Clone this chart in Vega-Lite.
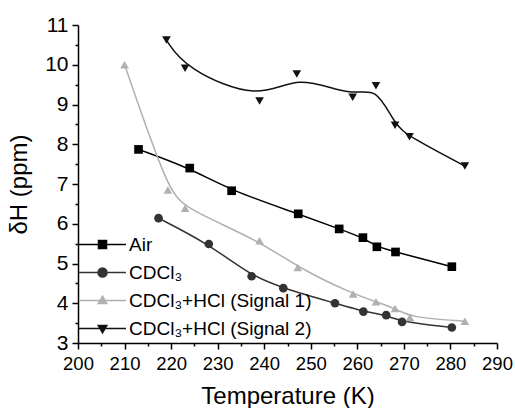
{
  "$schema": "https://vega.github.io/schema/vega-lite/v6.json",
  "autosize": {"type": "none"},
  "padding": {"left": 78, "top": 25, "right": 18, "bottom": 65},
  "width": 419,
  "height": 318,
  "background": "white",
  "config": {
    "view": {"stroke": null},
    "font": "Arial",
    "axis": {
      "grid": false,
      "domainColor": "black",
      "domainWidth": 1.5,
      "tickColor": "black",
      "tickWidth": 1.5,
      "tickSize": 6,
      "labelColor": "black",
      "labelFont": "Arial",
      "labelOverlap": false,
      "labelFlush": false,
      "titleFont": "Arial",
      "titleFontSize": 24,
      "titleFontWeight": "normal",
      "titleColor": "black"
    },
    "legend": {
      "labelFont": "Arial",
      "labelFontSize": 19,
      "labelColor": "black",
      "labelLimit": 400,
      "padding": 0,
      "rowPadding": 8
    }
  },
  "data": {
    "values": [
      {"series": "Air", "T": 213.0, "v": 7.87},
      {"series": "Air", "T": 224.0, "v": 7.40},
      {"series": "Air", "T": 233.0, "v": 6.83},
      {"series": "Air", "T": 247.3, "v": 6.25},
      {"series": "Air", "T": 256.1, "v": 5.87},
      {"series": "Air", "T": 261.2, "v": 5.65},
      {"series": "Air", "T": 264.2, "v": 5.42},
      {"series": "Air", "T": 268.2, "v": 5.29},
      {"series": "Air", "T": 280.3, "v": 4.92},
      {"series": "CDCl₃", "T": 217.3, "v": 6.14},
      {"series": "CDCl₃", "T": 228.1, "v": 5.49},
      {"series": "CDCl₃", "T": 237.3, "v": 4.68},
      {"series": "CDCl₃", "T": 244.1, "v": 4.38},
      {"series": "CDCl₃", "T": 255.2, "v": 4.00},
      {"series": "CDCl₃", "T": 261.3, "v": 3.79},
      {"series": "CDCl₃", "T": 266.2, "v": 3.70},
      {"series": "CDCl₃", "T": 269.6, "v": 3.53},
      {"series": "CDCl₃", "T": 280.3, "v": 3.39},
      {"series": "CDCl₃+HCl (Signal 1)", "T": 210.0, "v": 10.0},
      {"series": "CDCl₃+HCl (Signal 1)", "T": 219.3, "v": 6.85},
      {"series": "CDCl₃+HCl (Signal 1)", "T": 223.0, "v": 6.39},
      {"series": "CDCl₃+HCl (Signal 1)", "T": 239.0, "v": 5.57},
      {"series": "CDCl₃+HCl (Signal 1)", "T": 247.2, "v": 4.90},
      {"series": "CDCl₃+HCl (Signal 1)", "T": 259.1, "v": 4.23},
      {"series": "CDCl₃+HCl (Signal 1)", "T": 264.0, "v": 4.04},
      {"series": "CDCl₃+HCl (Signal 1)", "T": 268.1, "v": 3.87},
      {"series": "CDCl₃+HCl (Signal 1)", "T": 271.3, "v": 3.64},
      {"series": "CDCl₃+HCl (Signal 1)", "T": 283.1, "v": 3.55},
      {"series": "CDCl₃+HCl (Signal 2)", "T": 219.0, "v": 10.62},
      {"series": "CDCl₃+HCl (Signal 2)", "T": 223.0, "v": 9.91},
      {"series": "CDCl₃+HCl (Signal 2)", "T": 239.0, "v": 9.09},
      {"series": "CDCl₃+HCl (Signal 2)", "T": 247.0, "v": 9.77},
      {"series": "CDCl₃+HCl (Signal 2)", "T": 259.0, "v": 9.18},
      {"series": "CDCl₃+HCl (Signal 2)", "T": 264.0, "v": 9.47},
      {"series": "CDCl₃+HCl (Signal 2)", "T": 268.1, "v": 8.48},
      {"series": "CDCl₃+HCl (Signal 2)", "T": 271.2, "v": 8.19},
      {"series": "CDCl₃+HCl (Signal 2)", "T": 283.1, "v": 7.45}
    ]
  },
  "resolve": {
    "scale": {"shape": "independent", "fill": "independent", "stroke": "independent"},
    "axis": {"x": "independent", "y": "independent"}
  },
  "layer": [
    {
      "mark": {"type": "line", "interpolate": "basis", "strokeWidth": 1.5},
      "encoding": {
        "x": {"field": "T", "type": "quantitative",
              "scale": {"domain": [200, 290], "nice": false, "zero": false},
              "axis": {"orient": "bottom", "values": [200, 210, 220, 230, 240, 250, 260, 270, 280, 290],
                       "labelFontSize": 18.5, "labelPadding": 5, "title": "Temperature (K)", "titlePadding": 12}},
        "y": {"field": "v", "type": "quantitative",
              "scale": {"domain": [3, 11], "nice": false, "zero": false},
              "axis": {"orient": "left", "values": [3, 4, 5, 6, 7, 8, 9, 10, 11],
                       "labelFontSize": 21, "labelPadding": 4, "title": "δH (ppm)", "titlePadding": 13}},
        "color": {"field": "series", "type": "nominal", "legend": null,
                  "scale": {"domain": ["Air", "CDCl₃", "CDCl₃+HCl (Signal 1)", "CDCl₃+HCl (Signal 2)"],
                            "range": ["#000000", "#333333", "#b0b0b0", "#111111"]}},
        "detail": {"field": "series"}
      }
    },
    {
      "mark": {"type": "point", "filled": true, "size": 75, "opacity": 1},
      "encoding": {
        "x": {"field": "T", "type": "quantitative", "axis": null},
        "y": {"field": "v", "type": "quantitative", "axis": null},
        "color": {"field": "series", "type": "nominal", "legend": null},
        "shape": {"field": "series", "type": "nominal", "legend": null,
                  "scale": {"domain": ["Air", "CDCl₃", "CDCl₃+HCl (Signal 1)", "CDCl₃+HCl (Signal 2)"],
                            "range": ["square", "circle", "triangle-up", "triangle-down"]}}
      }
    },
    {
      "transform": [{"filter": "datum.T < 0"}],
      "mark": {"type": "point", "filled": true, "strokeWidth": 1.5, "opacity": 1},
      "encoding": {
        "x": {"field": "T", "type": "quantitative",
              "axis": {"orient": "bottom", "values": [205, 215, 225, 235, 245, 255, 265, 275, 285],
                       "labels": false, "domain": false, "tickSize": 3, "title": null}},
        "y": {"field": "v", "type": "quantitative",
              "axis": {"orient": "left", "values": [3.5, 4.5, 5.5, 6.5, 7.5, 8.5, 9.5, 10.5],
                       "labels": false, "domain": false, "tickSize": 3, "title": null}},
        "fill": {"field": "series", "type": "nominal",
                 "scale": {"domain": ["Air", "CDCl₃", "CDCl₃+HCl (Signal 1)", "CDCl₃+HCl (Signal 2)"],
                           "range": ["#000000", "#333333", "#b0b0b0", "#111111"]},
                 "legend": {"orient": "bottom-left", "offset": 4, "title": null, "symbolOpacity": 1,
                            "symbolSize": 100, "symbolStrokeWidth": 1.5, "labelOffset": 28}},
        "stroke": {"field": "series", "type": "nominal",
                   "scale": {"domain": ["Air", "CDCl₃", "CDCl₃+HCl (Signal 1)", "CDCl₃+HCl (Signal 2)"],
                             "range": ["#000000", "#333333", "#b0b0b0", "#111111"]},
                   "legend": {"orient": "bottom-left", "offset": 4, "title": null, "symbolOpacity": 1,
                              "symbolSize": 100, "symbolStrokeWidth": 1.5, "labelOffset": 28}},
        "shape": {"field": "series", "type": "nominal",
                  "scale": {"domain": ["Air", "CDCl₃", "CDCl₃+HCl (Signal 1)", "CDCl₃+HCl (Signal 2)"],
                            "range": [
                              "M -2.5 0 H 6.9 M 1.4 -0.8 H 3.0 V 0.8 H 1.4 Z",
                              "M -2.5 0 H 6.9 M 3.1 0 A 0.9 0.9 0 1 1 1.3 0 A 0.9 0.9 0 1 1 3.1 0 Z",
                              "M -2.5 0 H 6.9 M 2.2 -0.85 L 3.05 0.6 L 1.35 0.6 Z",
                              "M -2.5 0 H 6.9 M 2.2 0.85 L 3.05 -0.6 L 1.35 -0.6 Z"
                            ]},
                  "legend": {"orient": "bottom-left", "offset": 4, "title": null, "symbolOpacity": 1,
                             "symbolSize": 100, "symbolStrokeWidth": 1.5, "labelOffset": 28}}
      }
    }
  ]
}
